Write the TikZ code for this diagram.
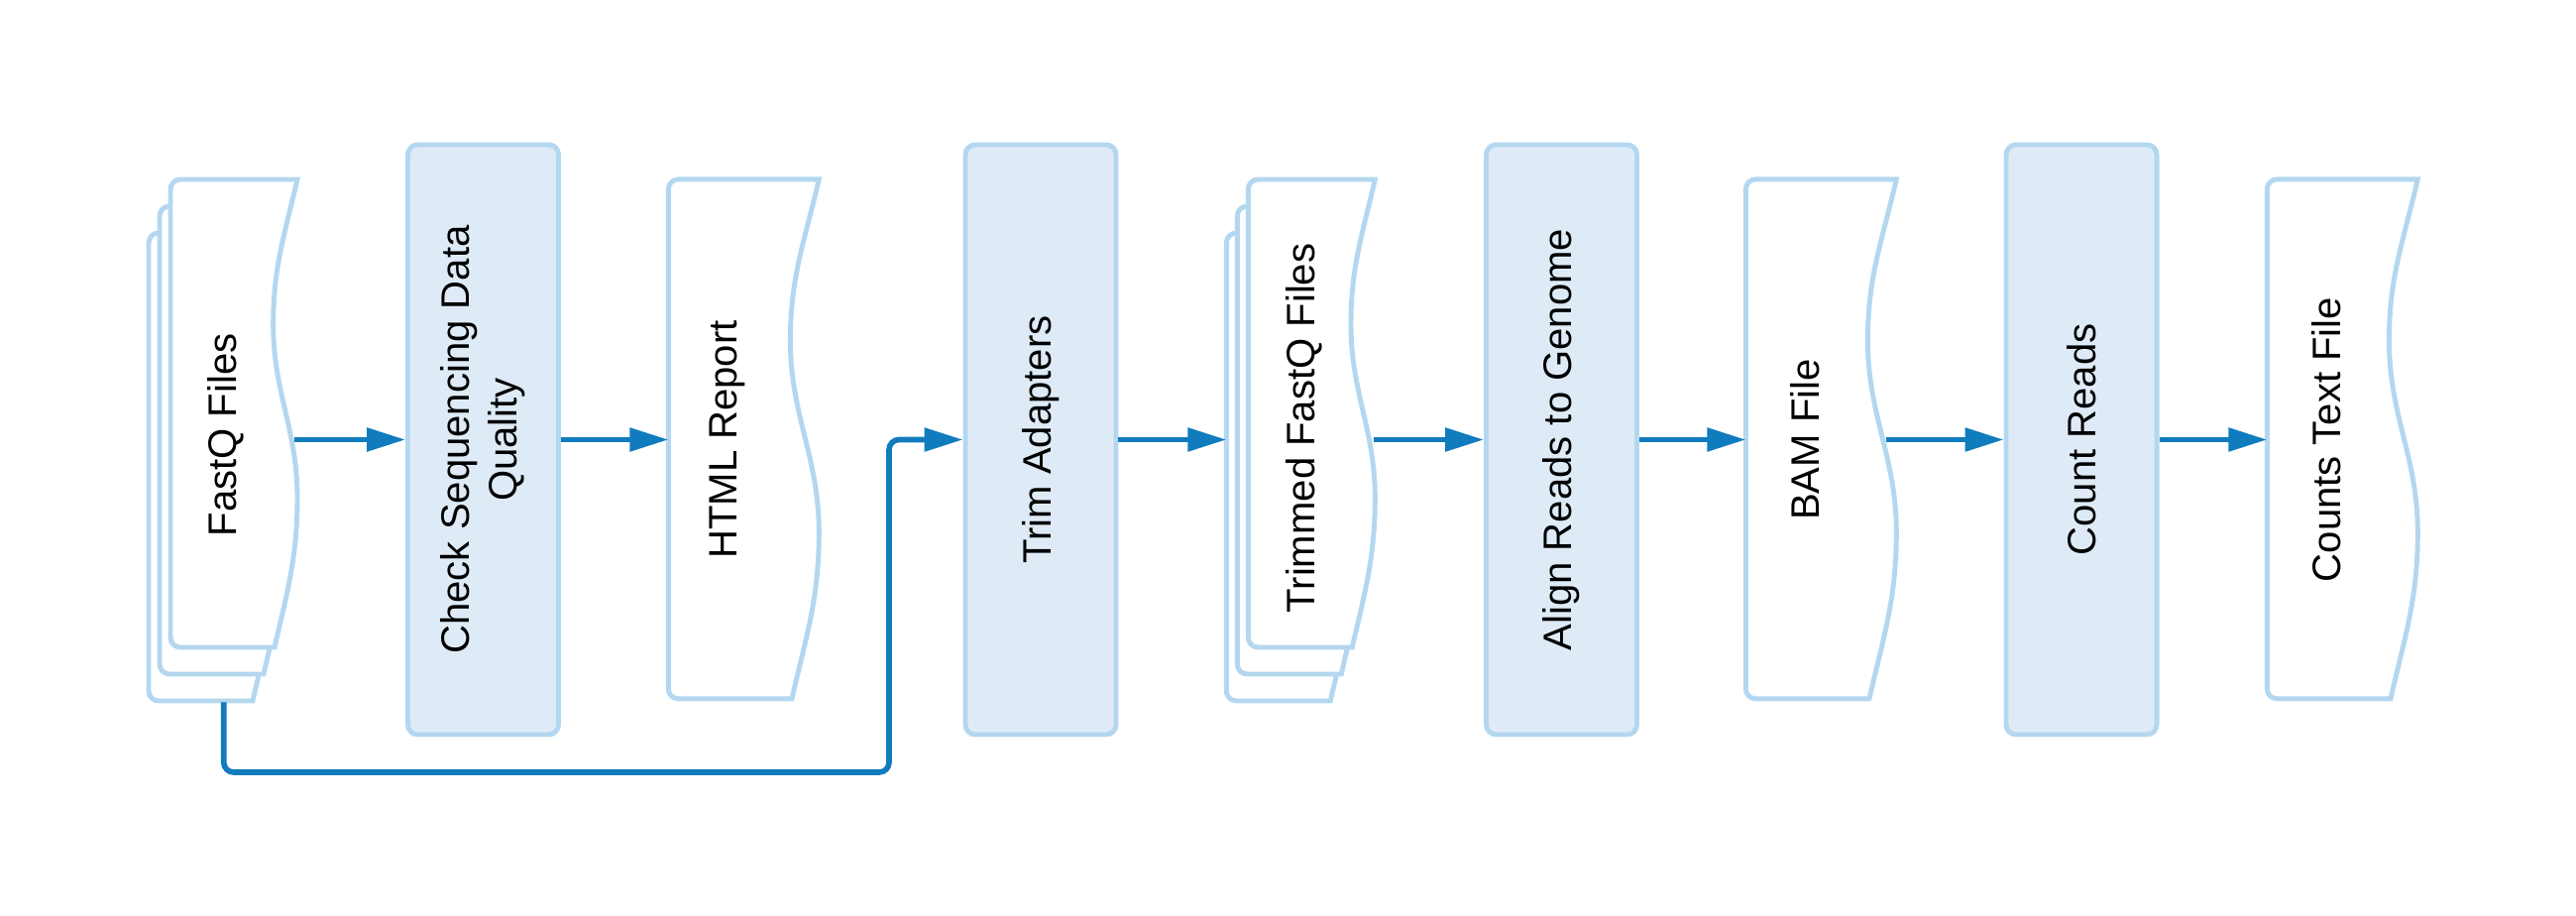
\documentclass[tikz,border=0pt]{standalone}
\usepackage{fontspec}
\setmainfont{Liberation Sans}
\usetikzlibrary{arrows.meta,calc}
\definecolor{lineblue}{RGB}{180,215,240}
\definecolor{fillblue}{RGB}{222,235,247}
\definecolor{arrowblue}{RGB}{16,124,189}
\tikzset{
    BX/.style ={rectangle,rounded corners=0.1cm,minimum width=1.52cm,minimum height=5.95cm,draw=lineblue,fill=fillblue,line width=1.4pt,inner sep=0pt},
    DC1/.style ={rectangle,minimum width=1.52cm,minimum height=5.24cm,inner sep=0pt},
    DC2/.style ={rectangle,minimum width=1.28cm,minimum height=4.72cm,inner sep=0pt},
    TX/.style ={rotate=90,align=center,inner sep=0pt,font=\fontsize{11.4}{13.6}\selectfont},
    DL/.style ={draw=lineblue,line width=1.4pt,fill=white},
    AR/.style ={draw=arrowblue,line width=1.6pt,-{Triangle[length=0.39cm,width=0.23cm]}}
}
% #1 node, #2 width, #3 height
\newcommand{\docshape}[3]{%
  \begin{scope}[shift={(#1.north west)}]
    \draw[DL] (0.82*#2,-#3) -- (0.1,-#3) arc[start angle=270,end angle=180,radius=0.1]
      -- (0,-0.1) arc[start angle=180,end angle=90,radius=0.1] -- (#2,0)
      to[out=257,in=90] (0.81*#2,-0.31*#3) to[out=270,in=90] (#2,-0.68*#3)
      to[out=270,in=77] (0.82*#2,-#3) -- cycle;
  \end{scope}}

\begin{document}
\begin{tikzpicture}
            \useasboundingbox (0,0) rectangle (25.99,9.23);
            \node[BX] (check) at (4.875,4.795) {};
            \node[BX] (trim) at (10.50,4.795) {};
            \node[BX] (align) at (15.755,4.795) {};
            \node[BX] (count) at (21.00,4.795) {};
            \node[DC2] (fastq3) at (2.147,4.513) {};
            \node[DC2] (fastq2) at (2.257,4.783) {};
            \node[DC2] (fastq) at (2.367,5.053) {};
            \node[DC2] (trimmed3) at (13.02,4.513) {};
            \node[DC2] (trimmed2) at (13.13,4.783) {};
            \node[DC2] (trimmed) at (13.24,5.053) {};
            \node[DC1] (html) at (7.51,4.795) {};
            \node[DC1] (bam) at (18.38,4.795) {};
            \node[DC1] (counts) at (23.64,4.795) {};
            \foreach \n in {fastq3,fastq2,fastq,trimmed3,trimmed2,trimmed} {\docshape{\n}{1.28}{4.72}}
            \foreach \n in {html,bam,counts} {\docshape{\n}{1.52}{5.24}}
            \node[TX] (fastq-t) at (2.28,4.84) {FastQ Files};
            \node[TX] (check-t) at (check) {Check Sequencing Data\\Quality};
            \node[TX] (html-t) at ([xshift=-0.167cm]html.center) {HTML Report};
            \node[TX] (trim-t) at (trim) {Trim Adapters};
            \node[TX] (trimmed-t) at (13.16,4.91) {Trimmed FastQ Files};
            \node[TX] (align-t) at (align) {Align Reads to Genome};
            \node[TX] (bam-t) at ([xshift=-0.167cm]bam.center) {BAM File};
            \node[TX] (count-t) at (count) {Count Reads};
            \node[TX] (counts-t) at ([xshift=-0.167cm]counts.center) {Counts Text File};
            \coordinate (loopturn) at (8.97,1.44);
            \draw[AR] ($(fastq.east |- check.west)+(-0.04,0)$) -- (check.west);
            \draw[AR] (check.east) -- (html.west);
            \draw[AR,rounded corners=0.1cm] ([xshift=0.11cm]fastq3.south) |- (loopturn) |- (trim.west);
            \draw[AR] (trim.east) -- (trimmed3.west |- trim.east);
            \draw[AR] ($(trimmed.east |- align.west)+(-0.03,0)$) -- (align.west);
            \draw[AR] (align.east) -- (bam.west);
            \draw[AR] ([xshift=-0.12cm]bam.east) -- (count.west);
            \draw[AR] (count.east) -- (counts.west);
        \end{tikzpicture}
\end{document}
